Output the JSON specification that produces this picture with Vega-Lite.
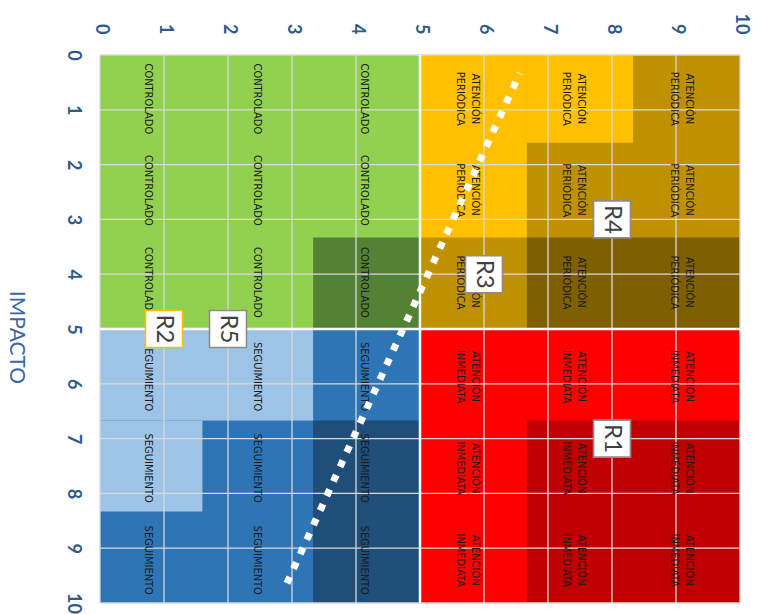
{
  "$schema": "https://vega.github.io/schema/vega-lite/v6.json",
  "width": 640,
  "height": 548,
  "autosize": "none",
  "padding": {"left": 100, "top": 55, "right": 18, "bottom": 11},
  "background": "white",
  "config": {
    "view": {"stroke": null},
    "axis": {"labelFont": "Lato", "labelFontWeight": "bold", "labelFontSize": 18, "labelColor": "#2F5A8C", "ticks": false, "tickSize": 0, "domain": false, "grid": false}
  },
  "datasets": {
    "zonas": [
      {"x0": 0, "x1": 5, "y0": 0, "y1": 5, "zona": "Controlado"},
      {"x0": 3.33, "x1": 5, "y0": 3.33, "y1": 5, "zona": "Controlado alto"},
      {"x0": 0, "x1": 5, "y0": 5, "y1": 10, "zona": "Seguimiento"},
      {"x0": 0, "x1": 3.33, "y0": 5, "y1": 6.67, "zona": "Seguimiento bajo"},
      {"x0": 0, "x1": 1.6, "y0": 6.67, "y1": 8.33, "zona": "Seguimiento bajo"},
      {"x0": 3.33, "x1": 5, "y0": 6.67, "y1": 10, "zona": "Seguimiento alto"},
      {"x0": 5, "x1": 10, "y0": 0, "y1": 5, "zona": "Periódica"},
      {"x0": 5, "x1": 6.67, "y0": 0, "y1": 3.33, "zona": "Periódica baja"},
      {"x0": 6.67, "x1": 8.33, "y0": 0, "y1": 1.6, "zona": "Periódica baja"},
      {"x0": 6.67, "x1": 10, "y0": 3.33, "y1": 5, "zona": "Periódica alta"},
      {"x0": 5, "x1": 10, "y0": 5, "y1": 10, "zona": "Inmediata"},
      {"x0": 6.67, "x1": 10, "y0": 6.67, "y1": 10, "zona": "Inmediata alta"}
    ],
    "rejilla": [
      {"g": 0}, {"g": 1}, {"g": 2}, {"g": 3}, {"g": 4}, {"g": 5},
      {"g": 6}, {"g": 7}, {"g": 8}, {"g": 9}, {"g": 10}
    ],
    "separador": [{"g": 5}],
    "textos": [
      {"x": 0.75, "y": 0.8, "t": "CONTROLADO"},
      {"x": 2.45, "y": 0.8, "t": "CONTROLADO"},
      {"x": 4.12, "y": 0.8, "t": "CONTROLADO"},
      {"x": 0.75, "y": 2.47, "t": "CONTROLADO"},
      {"x": 2.45, "y": 2.47, "t": "CONTROLADO"},
      {"x": 4.12, "y": 2.47, "t": "CONTROLADO"},
      {"x": 0.75, "y": 4.15, "t": "CONTROLADO"},
      {"x": 2.45, "y": 4.15, "t": "CONTROLADO"},
      {"x": 4.12, "y": 4.15, "t": "CONTROLADO"},
      {"x": 0.75, "y": 5.87, "t": "SEGUIMIENTO"},
      {"x": 2.45, "y": 5.87, "t": "SEGUIMIENTO"},
      {"x": 4.12, "y": 5.87, "t": "SEGUIMIENTO"},
      {"x": 0.75, "y": 7.54, "t": "SEGUIMIENTO"},
      {"x": 2.45, "y": 7.54, "t": "SEGUIMIENTO"},
      {"x": 4.12, "y": 7.54, "t": "SEGUIMIENTO"},
      {"x": 0.75, "y": 9.22, "t": "SEGUIMIENTO"},
      {"x": 2.45, "y": 9.22, "t": "SEGUIMIENTO"},
      {"x": 4.12, "y": 9.22, "t": "SEGUIMIENTO"},
      {"x": 5.86, "y": 0.8, "t": "ATENCIÓN\nPERIÓDICA"},
      {"x": 7.52, "y": 0.8, "t": "ATENCIÓN\nPERIÓDICA"},
      {"x": 9.2, "y": 0.8, "t": "ATENCIÓN\nPERIÓDICA"},
      {"x": 5.86, "y": 2.47, "t": "ATENCIÓN\nPERIÓDICA"},
      {"x": 7.52, "y": 2.47, "t": "ATENCIÓN\nPERIÓDICA"},
      {"x": 9.2, "y": 2.47, "t": "ATENCIÓN\nPERIÓDICA"},
      {"x": 5.86, "y": 4.15, "t": "ATENCIÓN\nPERIÓDICA"},
      {"x": 7.52, "y": 4.15, "t": "ATENCIÓN\nPERIÓDICA"},
      {"x": 9.2, "y": 4.15, "t": "ATENCIÓN\nPERIÓDICA"},
      {"x": 5.86, "y": 5.87, "t": "ATENCIÓN\nINMEDIATA"},
      {"x": 7.52, "y": 5.87, "t": "ATENCIÓN\nINMEDIATA"},
      {"x": 9.2, "y": 5.87, "t": "ATENCIÓN\nINMEDIATA"},
      {"x": 5.86, "y": 7.54, "t": "ATENCIÓN\nINMEDIATA"},
      {"x": 7.52, "y": 7.54, "t": "ATENCIÓN\nINMEDIATA"},
      {"x": 9.2, "y": 7.54, "t": "ATENCIÓN\nINMEDIATA"},
      {"x": 5.86, "y": 9.22, "t": "ATENCIÓN\nINMEDIATA"},
      {"x": 7.52, "y": 9.22, "t": "ATENCIÓN\nINMEDIATA"},
      {"x": 9.2, "y": 9.22, "t": "ATENCIÓN\nINMEDIATA"}
    ],
    "tendencia": [
      {"x": 2.92, "y": 9.64},
      {"x": 6.56, "y": 0.33}
    ],
    "riesgos": [
      {"x": 8, "y": 7, "r": "R1"},
      {"x": 1, "y": 5, "r": "R2"},
      {"x": 6, "y": 4, "r": "R3"},
      {"x": 8, "y": 3, "r": "R4"},
      {"x": 2, "y": 5, "r": "R5"}
    ]
  },
  "layer": [
    {
      "data": {"name": "zonas"},
      "mark": {"type": "rect"},
      "encoding": {
        "x": {"field": "x0", "type": "quantitative", "scale": {"domain": [0, 10], "nice": false, "zero": false},
              "axis": {"orient": "top", "values": [0,1,2,3,4,5,6,7,8,9,10], "format": "d", "labelAngle": 90, "labelAlign": "right", "labelBaseline": "middle", "labelPadding": 21, "title": null}},
        "x2": {"field": "x1"},
        "y": {"field": "y0", "type": "quantitative", "scale": {"domain": [0, 10], "nice": false, "zero": false, "reverse": true},
              "axis": {"orient": "left", "values": [0,1,2,3,4,5,6,7,8,9,10], "format": "d", "labelAngle": 90, "labelAlign": "center", "labelBaseline": "top", "labelPadding": 19,
                       "title": "IMPACTO", "titleFont": "Lato", "titleFontSize": 21, "titleFontWeight": "normal", "titleColor": "#3A67A3", "titleAngle": 90, "titleAlign": "center", "titleBaseline": "middle", "titleX": -85, "titleY": 282}},
        "y2": {"field": "y1"},
        "fill": {"field": "zona", "type": "nominal", "legend": null,
                 "scale": {"domain": ["Controlado", "Controlado alto", "Seguimiento", "Seguimiento bajo", "Seguimiento alto", "Periódica", "Periódica baja", "Periódica alta", "Inmediata", "Inmediata alta"],
                           "range": ["#92D050", "#548235", "#2E75B6", "#9DC3E6", "#1F4E79", "#BF9000", "#FFC000", "#7F6000", "#FF0000", "#C00000"]}}
      }
    },
    {
      "data": {"name": "rejilla"},
      "mark": {"type": "rule", "color": "#D9D9D9", "strokeWidth": 1.3},
      "encoding": {"x": {"field": "g", "type": "quantitative"}}
    },
    {
      "data": {"name": "rejilla"},
      "mark": {"type": "rule", "color": "#D9D9D9", "strokeWidth": 1.3},
      "encoding": {"y": {"field": "g", "type": "quantitative"}}
    },
    {
      "data": {"name": "separador"},
      "mark": {"type": "rule", "color": "#FFFFFF", "strokeWidth": 2.5},
      "encoding": {"x": {"field": "g", "type": "quantitative"}}
    },
    {
      "data": {"name": "separador"},
      "mark": {"type": "rule", "color": "#FFFFFF", "strokeWidth": 2.5},
      "encoding": {"y": {"field": "g", "type": "quantitative"}}
    },
    {
      "data": {"name": "textos"},
      "mark": {"type": "text", "angle": 90, "align": "center", "baseline": "middle", "lineBreak": "\n", "lineHeight": 15,
               "font": "DejaVu Sans Condensed, sans-serif", "fontSize": 11, "color": "#1A1A1A"},
      "encoding": {
        "x": {"field": "x", "type": "quantitative"},
        "y": {"field": "y", "type": "quantitative"},
        "text": {"field": "t", "type": "nominal"}
      }
    },
    {
      "data": {"name": "tendencia"},
      "mark": {"type": "line", "color": "#FFFFFF", "strokeWidth": 7, "strokeDash": [7, 9], "strokeCap": "butt"},
      "encoding": {
        "x": {"field": "x", "type": "quantitative"},
        "y": {"field": "y", "type": "quantitative"}
      }
    },
    {
      "data": {"name": "riesgos"},
      "mark": {"type": "point", "shape": "square", "size": 1369, "filled": false, "fill": "#FFFFFF", "fillOpacity": 1, "strokeWidth": 1.6, "opacity": 1},
      "encoding": {
        "x": {"field": "x", "type": "quantitative"},
        "y": {"field": "y", "type": "quantitative"},
        "stroke": {"field": "r", "type": "nominal", "legend": null,
                   "scale": {"domain": ["R1", "R2", "R3", "R4", "R5"], "range": ["#8C8C8C", "#FFC000", "#8C8C8C", "#8C8C8C", "#8C8C8C"]}}
      }
    },
    {
      "data": {"name": "riesgos"},
      "mark": {"type": "text", "angle": 90, "align": "center", "baseline": "middle", "font": "Lato", "fontSize": 24, "color": "#404040"},
      "encoding": {
        "x": {"field": "x", "type": "quantitative"},
        "y": {"field": "y", "type": "quantitative"},
        "text": {"field": "r", "type": "nominal"}
      }
    }
  ]
}
